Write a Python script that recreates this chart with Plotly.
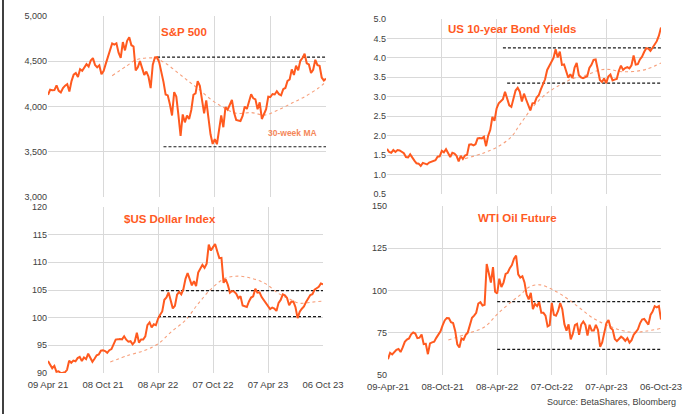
import pandas as pd
import plotly.graph_objects as go

# Weekly dates (Fridays) 09 Apr 2021 .. 06 Oct 2023
dates = pd.date_range("2021-04-09", "2023-10-06", freq="7D")

tick_dates = ["2021-04-09", "2021-10-08", "2022-04-08", "2022-10-07", "2023-04-07", "2023-10-06"]
tick_text_a = ["09 Apr 21", "08 Oct 21", "08 Apr 22", "07 Oct 22", "07 Apr 23", "06 Oct 23"]
tick_text_b = ["09-Apr-21", "08-Oct-21", "08-Apr-22", "07-Oct-22", "07-Apr-23", "06-Oct-23"]

spx = [4129, 4185, 4180, 4181, 4233, 4174, 4156, 4204, 4230, 4247,
       4166, 4281, 4352, 4370, 4327, 4412, 4395, 4437, 4468, 4442,
       4509, 4535, 4459, 4433, 4455, 4357, 4391, 4471, 4545, 4605,
       4697, 4683, 4698, 4595, 4538, 4712, 4620, 4726, 4766,
       4677, 4663, 4398, 4432, 4501, 4419, 4349, 4385, 4329, 4204,
       4463, 4543, 4546, 4488, 4393, 4272, 4132, 4123, 4024, 3901,
       4158, 4109, 3901, 3675, 3912, 3825, 3899, 3863, 3962, 4130,
       4145, 4280, 4228, 4058, 3924, 4067, 3873, 3693, 3586, 3640,
       3583, 3752, 3901, 3771, 3993, 3965, 4026, 4072, 3934, 3852,
       3845, 3840,
       3895, 3999, 3973, 4071, 4136, 4090, 4079, 3970, 4046, 3862,
       3917, 3971, 4109, 4105, 4138, 4133, 4169, 4136, 4124, 4192,
       4205, 4282, 4299, 4410, 4348, 4450, 4399, 4505, 4536, 4582,
       4478, 4464, 4370, 4406, 4516, 4457, 4450, 4320, 4288, 4308]

spx_ma_dates = ["2021-11-05", "2021-12-24", "2022-01-21", "2022-02-18", "2022-03-25",
                "2022-04-29", "2022-06-10", "2022-07-15", "2022-08-12", "2022-09-27",
                "2022-11-09", "2022-12-16", "2023-02-04", "2023-03-20", "2023-05-02",
                "2023-06-15", "2023-07-28", "2023-09-10", "2023-10-06"]
spx_ma = [4340, 4452, 4514, 4533, 4533, 4477, 4367, 4274, 4201, 4072,
          3980, 3925, 3932, 3906, 3961, 4035, 4108, 4201, 4274]
spx_levels = [4545, 3555]
spx_level_start = ["2022-04-01", "2022-04-22"]

ust10 = [1.66, 1.58, 1.56, 1.63, 1.58, 1.63, 1.62, 1.59, 1.55, 1.45,
         1.44, 1.52, 1.43, 1.36, 1.29, 1.28, 1.22, 1.30, 1.28, 1.26,
         1.31, 1.33, 1.34, 1.37, 1.46, 1.47, 1.61, 1.57, 1.65, 1.55,
         1.45, 1.56, 1.54, 1.48, 1.34, 1.48, 1.40, 1.49, 1.51,
         1.77, 1.78, 1.75, 1.78, 1.93, 1.94, 1.93, 1.97, 1.73, 2.00,
         2.15, 2.48, 2.38, 2.70, 2.83, 2.90, 2.94, 3.13, 2.93, 2.78,
         2.74, 2.94, 3.16, 3.23, 3.13, 2.88, 3.08, 2.93, 2.77, 2.65,
         2.83, 2.84, 2.98, 3.04, 3.19, 3.32, 3.45, 3.69, 3.80, 3.88,
         4.00, 4.22, 4.01, 4.16, 3.82, 3.83, 3.68, 3.49, 3.58, 3.48,
         3.75, 3.87,
         3.56, 3.50, 3.48, 3.51, 3.53, 3.74, 3.82, 3.95, 3.96, 3.70,
         3.43, 3.38, 3.47, 3.35, 3.52, 3.57, 3.42, 3.44, 3.46, 3.67,
         3.80, 3.69, 3.74, 3.76, 3.73, 3.81, 4.06, 3.83, 3.84, 3.96,
         4.03, 4.15, 4.25, 4.24, 4.18, 4.26, 4.33, 4.43, 4.57, 4.78]

ust10_ma_dates = ["2021-12-24", "2022-02-22", "2022-04-13", "2022-05-27", "2022-06-24",
                  "2022-08-08", "2022-09-22", "2022-11-04", "2022-12-19", "2023-02-01",
                  "2023-03-17", "2023-04-20", "2023-05-22", "2023-07-06", "2023-08-19",
                  "2023-10-06"]
ust10_ma = [1.41, 1.55, 1.72, 1.97, 2.28, 2.75, 3.09, 3.30, 3.47, 3.56,
            3.69, 3.70, 3.65, 3.65, 3.71, 3.87]
ust10_levels = [4.26, 3.35]
ust10_level_start = ["2022-04-29", "2022-05-13"]

dxy = [92.16, 91.56, 90.86, 91.28, 90.23, 90.32, 90.01, 90.03, 90.13, 90.58,
       92.23, 91.85, 92.23, 92.12, 92.69, 92.91, 92.17, 92.80, 92.52, 93.49,
       92.68, 92.03, 92.58, 93.20, 93.34, 94.04, 94.09, 93.96, 93.64, 94.12,
       94.32, 95.13, 96.03, 96.08, 96.16, 96.07, 96.63, 96.02, 95.67,
       95.75, 95.17, 95.64, 97.27, 95.50, 96.05, 96.04, 96.62, 98.66, 99.13,
       98.23, 98.79, 98.63, 99.80, 100.52, 101.12, 103.23, 103.66, 104.56, 103.16,
       101.68, 102.14, 104.15, 104.66, 104.21, 105.14, 107.01, 108.07, 106.73, 105.85,
       106.60, 105.69, 108.14, 108.80, 109.54, 109.00, 109.76, 113.19, 112.12, 112.75,
       113.31, 111.99, 110.76, 110.81, 106.29, 106.93, 105.96, 104.51, 104.82, 104.70,
       104.32, 103.52,
       103.89, 102.20, 102.01, 101.92, 102.92, 103.63, 103.87, 105.21, 104.52, 104.58,
       103.72, 103.12, 102.51, 102.10, 101.55, 101.83, 101.66, 101.22, 102.68, 103.20,
       104.21, 104.03, 103.56, 102.26, 102.89, 102.91, 101.88, 99.91, 101.07, 101.62,
       102.01, 102.84, 103.40, 104.09, 104.24, 105.05, 105.32, 105.58, 106.17, 106.04]

dxy_ma_dates = ["2021-11-01", "2021-12-31", "2022-02-24", "2022-04-09", "2022-05-23",
                "2022-07-07", "2022-08-20", "2022-10-03", "2022-11-16", "2022-12-30",
                "2023-02-12", "2023-03-28", "2023-05-11", "2023-06-24", "2023-07-21",
                "2023-08-30", "2023-10-06"]
dxy_ma = [92.0, 93.2, 94.1, 95.3, 97.5, 99.5, 102.6, 105.3, 107.1, 107.5,
          107.1, 106.2, 104.4, 103.2, 102.6, 102.8, 103.0]
dxy_levels = [104.9, 100.2]
dxy_level_start = ["2022-04-18", "2022-04-08"]

wti = [59.32, 63.13, 62.14, 63.58, 64.90, 65.37, 63.58, 66.32, 69.62, 70.91,
       71.64, 74.05, 75.16, 74.56, 71.81, 72.07, 73.95, 68.28, 68.44, 62.32,
       68.74, 69.29, 69.72, 71.97, 73.98, 75.88, 79.35, 82.28, 83.76, 83.57,
       81.27, 80.79, 76.10, 68.15, 66.26, 71.67, 70.86, 73.79, 75.21,
       78.90, 83.82, 85.14, 86.82, 92.31, 93.10, 91.07, 91.59, 115.68, 109.33,
       104.70, 113.90, 99.27, 98.26, 106.95, 102.07, 104.69, 109.77, 110.49, 113.23,
       115.07, 118.87, 120.67, 109.56, 107.62, 108.43, 104.79, 97.59, 94.70, 98.62,
       89.01, 92.09, 90.77, 93.06, 86.87, 86.79, 85.11, 78.74, 79.49, 92.64,
       85.61, 85.05, 87.90, 92.61, 88.96, 80.08, 76.28, 79.98, 71.02, 74.29,
       79.56, 80.26,
       73.77, 79.86, 81.64, 79.68, 73.39, 79.72, 76.34, 76.32, 79.68, 76.68,
       66.74, 69.26, 75.67, 80.70, 82.52, 77.87, 76.78, 71.34, 70.04, 71.69,
       72.67, 71.74, 70.17, 71.78, 69.16, 70.64, 73.86, 75.42, 77.07, 80.58,
       82.82, 83.19, 81.25, 79.83, 85.55, 87.51, 90.77, 90.03, 90.79, 82.79]

wti_ma_dates = ["2021-10-27", "2022-01-01", "2022-02-26", "2022-04-11", "2022-05-26",
                "2022-06-23", "2022-07-26", "2022-08-29", "2022-10-12", "2022-11-26",
                "2023-01-09", "2023-02-23", "2023-04-08", "2023-05-22", "2023-07-06",
                "2023-08-19", "2023-10-06"]
wti_ma = [70.7, 74.6, 78.6, 86.5, 93.4, 97.3, 102.3, 103.3, 100.3, 95.4,
          89.5, 83.5, 79.6, 76.6, 75.3, 76.0, 77.6]
wti_levels = [93.4, 65.2]
wti_level_start = ["2022-04-08", "2022-04-08"]

END = "2023-10-06"
LINE = "#FF5A1F"
MA_COL = "#F7A07C"
GRID = "#D9D9D9"
TICK = "#404040"
FONT = "Liberation Sans, Arial, sans-serif"

panels = [
    (spx, spx_ma_dates, spx_ma, spx_levels, spx_level_start, "x", "y"),
    (ust10, ust10_ma_dates, ust10_ma, ust10_levels, ust10_level_start, "x2", "y2"),
    (dxy, dxy_ma_dates, dxy_ma, dxy_levels, dxy_level_start, "x3", "y3"),
    (wti, wti_ma_dates, wti_ma, wti_levels, wti_level_start, "x4", "y4"),
]

fig = go.Figure()
for vals, mad, ma, lev, levs, xa, ya in panels:
    fig.add_trace(go.Scatter(x=mad, y=ma, mode="lines", xaxis=xa, yaxis=ya,
                             line=dict(color=MA_COL, width=1.1, dash="dot", shape="spline"),
                             hoverinfo="skip", showlegend=False))
    for lv, st in zip(lev, levs):
        fig.add_trace(go.Scatter(x=[st, END], y=[lv, lv], mode="lines", xaxis=xa, yaxis=ya,
                                 line=dict(color="#1a1a1a", width=1.2, dash="3px,2px"),
                                 hoverinfo="skip", showlegend=False))
    fig.add_trace(go.Scatter(x=dates, y=vals, mode="lines", xaxis=xa, yaxis=ya,
                             line=dict(color=LINE, width=2), showlegend=False))

xbase = dict(range=["2021-04-09", END], tickvals=tick_dates, showgrid=True, gridcolor=GRID,
             gridwidth=1, zeroline=False, showline=False, ticks="", automargin=False,
             ticklabelstandoff=4,
             tickfont=dict(size=9.5, color=TICK, family=FONT))
ybase = dict(showgrid=True, gridcolor=GRID, gridwidth=1, zeroline=False, showline=False,
             ticks="", automargin=False, tickfont=dict(size=9, color=TICK, family=FONT))

fig.update_layout(
    width=700, height=414,
    margin=dict(l=0, r=0, t=0, b=0, autoexpand=False),
    paper_bgcolor="white", plot_bgcolor="white",
    font=dict(family=FONT),
    xaxis=dict(xbase, domain=[48/700, 326/700], anchor="y", showticklabels=False),
    yaxis=dict(ybase, domain=[217/414, 398/414], anchor="x", range=[3000, 5000],
               dtick=500, tickformat=","),
    xaxis2=dict(xbase, domain=[387/700, 661/700], anchor="y2", showticklabels=False),
    yaxis2=dict(ybase, domain=[220/414, 395/414], anchor="x2", range=[0.5, 5.0],
                dtick=0.5, tickformat=".1f"),
    xaxis3=dict(xbase, domain=[48/700, 323/700], anchor="y3", ticktext=tick_text_a),
    yaxis3=dict(ybase, domain=[41/414, 207/414], anchor="x3", range=[90, 120], dtick=5),
    xaxis4=dict(xbase, domain=[388/700, 661/700], anchor="y4", ticktext=tick_text_b),
    yaxis4=dict(ybase, domain=[39/414, 208/414], anchor="x4", range=[50, 150], dtick=25),
)

titles = [("S&P 500", 184, 32), ("US 10-year Bond Yields", 512, 29),
          ("$US Dollar Index", 170, 219), ("WTI Oil Future", 517, 218)]
for txt, px, py in titles:
    fig.add_annotation(text="<b>%s</b>" % txt, xref="paper", yref="paper",
                       x=px/700, y=1-py/414, xanchor="center", yanchor="middle",
                       showarrow=False, font=dict(size=11.5, color=LINE, family=FONT))
fig.add_annotation(text="<b>30-week MA</b>", xref="paper", yref="paper",
                   x=292/700, y=1-133/414, xanchor="center", yanchor="middle",
                   showarrow=False, font=dict(size=8.5, color="#F4875A", family=FONT))
fig.add_annotation(text="Source: BetaShares, Bloomberg", xref="paper", yref="paper",
                   x=678/700, y=1-402/414, xanchor="right", yanchor="middle",
                   showarrow=False, font=dict(size=9, color=TICK, family=FONT))
fig.add_shape(type="line", xref="paper", yref="paper", x0=3/700, x1=3/700, y0=0, y1=1,
              line=dict(color="#404040", width=2))

fig.write_html("out.html", config={"displayModeBar": False},
               post_script="document.body.style.margin='0';document.body.style.overflow='hidden';")
